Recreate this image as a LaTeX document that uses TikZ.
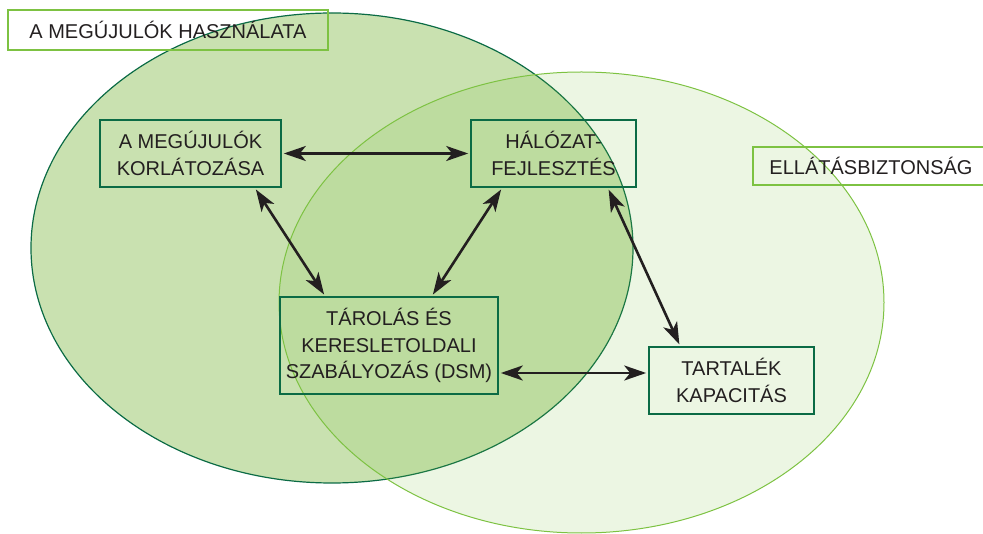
\documentclass[tikz,border=0pt]{standalone}
\usepackage{xcolor}
\usepackage{tikz}
\usepackage{fontspec}
\setmainfont{Liberation Sans}
\usetikzlibrary{arrows.meta}

\definecolor{darkgreen}{HTML}{0B6B45}
\definecolor{lightgreen}{HTML}{7DC242}
\definecolor{paleblob}{HTML}{C9E1B0}
\definecolor{inkgray}{HTML}{231F20}

\begin{document}
\begin{tikzpicture}[x=1pt, y=-1pt,
  every node/.style={font=\fontsize{20}{26.5}\selectfont, text=inkgray, align=center, inner sep=0pt},
  itembox/.style={rectangle, draw=darkgreen, line width=1.6pt},
  tagbox/.style={rectangle, draw=lightgreen, line width=1.8pt},
  link/.style={draw=inkgray, line width=2.6pt, {Stealth[length=22pt,width=15pt,inset=6pt]}-{Stealth[length=22pt,width=15pt,inset=6pt]}, shorten <=2pt, shorten >=2pt}]
  \useasboundingbox (0,0) rectangle (983,534);

  % Sets
  \draw[fill=paleblob, draw=darkgreen, line width=1.2pt] (332,248) ellipse [x radius=301, y radius=235];
  \draw[fill=lightgreen, fill opacity=0.15, draw=lightgreen, line width=1pt] (581.5,302.5) ellipse [x radius=302.5, y radius=230.5];

  % Set labels
  \node[tagbox, minimum width=320pt, minimum height=40pt] (use) at (168,30) {A MEGÚJULÓK HASZNÁLATA};
  \node[tagbox, minimum width=236pt, minimum height=38pt] (secure) at (871,166) {ELLÁTÁSBIZTONSÁG};

  % Measures
  \node[itembox, minimum width=181pt, minimum height=67pt] (kor) at (190.5,153.5) {A MEGÚJULÓK\\KORLÁTOZÁSA};
  \node[itembox, minimum width=165pt, minimum height=67pt] (hal) at (553.5,153.5) {HÁLÓZAT-\\FEJLESZTÉS};
  \node[itembox, minimum width=218pt, minimum height=97pt] (tar) at (389,345.5) {TÁROLÁS ÉS\\KERESLETOLDALI\\SZABÁLYOZÁS (DSM)};
  \node[itembox, minimum width=165pt, minimum height=67pt] (kap) at (731.5,380.5) {TARTALÉK\\KAPACITÁS};

  % Links
  \draw[link] (kor.east) -- (hal.west);
  \draw[link] ([xshift=-27pt]kor.south east) -- ([xshift=46pt]tar.north west);
  \draw[link] ([xshift=32pt]hal.south west) -- ([xshift=-67pt]tar.north east);
  \draw[link] ([xshift=-29pt]hal.south east) -- ([xshift=32pt]kap.north west);
  \draw[link] ([yshift=-27.5pt]tar.east) -- ([yshift=7.5pt]kap.west);
\end{tikzpicture}
\end{document}
